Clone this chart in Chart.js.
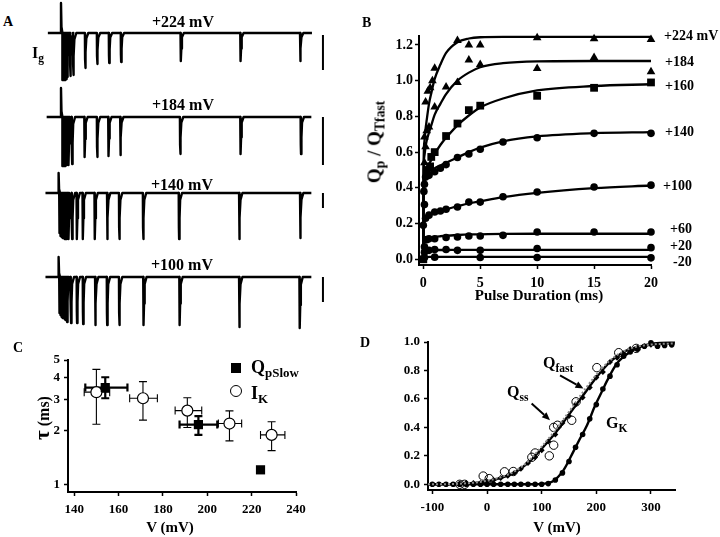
<!DOCTYPE html>
<html><head><meta charset="utf-8">
<script src="https://cdn.jsdelivr.net/npm/chart.js@4.4.1/dist/chart.umd.min.js"></script>
<style>
html,body{margin:0;padding:0;background:#fff;}
#fig{position:relative;width:720px;height:537px;overflow:hidden;background:#fff;font-family:"Liberation Serif","Times New Roman",serif;font-weight:bold;color:#000;}
canvas{position:absolute;}
.lbl{position:absolute;white-space:nowrap;line-height:1;}
.lbl sub{font-size:0.72em;vertical-align:-0.32em;line-height:0;}
.rot{position:absolute;white-space:nowrap;line-height:1;transform:translate(-50%,-50%) rotate(-90deg);}
.rot sub{font-size:0.72em;vertical-align:-0.32em;line-height:0;}
.ctr{transform:translateX(-50%);}
</style></head><body>
<div id="fig">
<canvas id="a1" width="290" height="88" style="left:40px;top:0px"></canvas>
<canvas id="a2" width="290" height="88" style="left:40px;top:85px"></canvas>
<canvas id="a3" width="290" height="80" style="left:40px;top:168px"></canvas>
<canvas id="a4" width="290" height="85" style="left:40px;top:252px"></canvas>
<canvas id="b" width="360" height="310" style="left:360px;top:0px"></canvas>
<canvas id="c" width="360" height="207" style="left:0px;top:330px"></canvas>
<canvas id="d" width="360" height="207" style="left:360px;top:330px"></canvas>

<div class="lbl" style="left:3px;top:15px;font-size:14px">A</div>
<div class="lbl" style="left:362px;top:16px;font-size:14px">B</div>
<div class="lbl" style="left:13px;top:341px;font-size:14px">C</div>
<div class="lbl" style="left:360px;top:336px;font-size:14px">D</div>

<div class="lbl" style="left:32px;top:45px;font-size:16px">I<sub>g</sub></div>
<div class="lbl" style="left:152px;top:14px;font-size:16px">+224 mV</div>
<div class="lbl" style="left:152px;top:97px;font-size:16px">+184 mV</div>
<div class="lbl" style="left:151px;top:177px;font-size:16px">+140 mV</div>
<div class="lbl" style="left:151px;top:257px;font-size:16px">+100 mV</div>

<div class="lbl" style="left:664px;top:29px;font-size:14px">+224 mV</div>
<div class="lbl" style="left:665px;top:55px;font-size:14px">+184</div>
<div class="lbl" style="left:665px;top:79px;font-size:14px">+160</div>
<div class="lbl" style="left:665px;top:125px;font-size:14px">+140</div>
<div class="lbl" style="left:663px;top:179px;font-size:14px">+100</div>
<div class="lbl" style="left:670px;top:222px;font-size:14px">+60</div>
<div class="lbl" style="left:670px;top:239px;font-size:14px">+20</div>
<div class="lbl" style="left:673px;top:255px;font-size:14px">-20</div>
<div class="rot" style="left:374px;top:142px;font-size:19px">Q<sub>p</sub> / Q<sub>Tfast</sub></div>
<div class="lbl ctr" style="left:539px;top:288px;font-size:15px">Pulse Duration (ms)</div>

<div class="rot" style="left:42px;top:418px;font-size:16px"><span style="font-size:21px">τ</span> (ms)</div>
<div class="lbl ctr" style="left:170px;top:520px;font-size:15px">V (mV)</div>
<div style="position:absolute;left:231px;top:363px;width:10px;height:10px;background:#000"></div>
<div class="lbl" style="left:251px;top:358px;font-size:18px">Q<sub>pSlow</sub></div>
<div style="position:absolute;left:230px;top:385px;width:10px;height:10px;border:1.3px solid #000;border-radius:50%;background:#fff"></div>
<div class="lbl" style="left:251px;top:384px;font-size:18px">I<sub>K</sub></div>

<div class="lbl ctr" style="left:557px;top:520px;font-size:15px">V (mV)</div>
<div class="lbl" style="left:543px;top:355px;font-size:16px">Q<sub>fast</sub></div>
<div class="lbl" style="left:507px;top:384px;font-size:16px">Q<sub>ss</sub></div>
<div class="lbl" style="left:606px;top:415px;font-size:16px">G<sub>K</sub></div>
</div>
<script>
// ---------------- DATA ----------------
// Panel A: gating current records (relative amplitude units), times in ms
const traceNames = ['+224 mV', '+184 mV', '+140 mV', '+100 mV'];
const traceStart = [-1.1, -1.2, -1.3, -1.3];
const traceEnd = [21.0, 20.95, 20.95, 20.95];
const onTime = [0, 0, -0.2, -0.2];
const onAmp = [30, 29, 20, 20];
const tail224T = [0.1, 0.2, 0.3, 0.4, 0.5, 0.75, 1.0, 2, 3, 4, 5, 10, 15, 20];
const tail224A = [47, 47, 47, 46, 44, 43, 42, 35, 31, 30, 29, 28, 28, 28];
const tail184T = [0.1, 0.2, 0.3, 0.45, 0.6, 0.9, 1.95, 3, 3.95, 4.95, 9.95, 15, 20.05];
const tail184A = [49, 49, 49, 48, 48, 47, 40, 40, 39, 38, 37, 37, 37];
const tail140T = [-0.15, -0.08, 0, 0.08, 0.15, 0.25, 0.4, 0.6, 0.9, 1.3, 1.8, 2.8, 3.85, 4.85, 6.85, 9.85, 14.9, 20];
const tail140A = [40, 43, 44, 45, 45, 46, 46, 46, 46, 46, 46, 46, 46, 46, 46, 46, 46, 45];
const tail100T = [-0.15, -0.08, 0, 0.08, 0.15, 0.25, 0.35, 0.48, 0.81, 1.31, 1.82, 2.85, 3.83, 4.85, 6.88, 9.9, 14.9, 19.95];
const tail100A = [36, 38, 40, 41, 41, 42, 43, 45, 46, 46, 47, 48, 48, 48, 48, 48, 50, 51];
const scaleBarT = 21.92;
const scaleBars = [[-2, -37], [0, -48], [0, -15], [0, -25]];

// Panel B: Qp/QTfast vs pulse duration
const bXTicks = [0, 5, 10, 15, 20];
const bYTicks = [0, 0.2, 0.4, 0.6, 0.8, 1.0, 1.2];
const tFit = [0, 0.02, 0.1, 0.2, 0.3, 0.5, 0.7, 1, 1.5, 2, 3, 4, 5, 7, 10, 15, 20];
const fit224 = [0, 0.5, 0.66, 0.73, 0.78, 0.87, 0.93, 1.01, 1.09, 1.155, 1.215, 1.236, 1.243, 1.245, 1.245, 1.245, 1.245];
const fit184 = [0, 0.45, 0.58, 0.63, 0.665, 0.71, 0.75, 0.81, 0.87, 0.925, 1.0, 1.045, 1.075, 1.098, 1.108, 1.11, 1.11];
const fit160 = [0, 0.38, 0.46, 0.5, 0.515, 0.535, 0.555, 0.59, 0.64, 0.68, 0.75, 0.805, 0.85, 0.9, 0.945, 0.97, 0.98];
const fit140 = [0, 0.33, 0.42, 0.46, 0.475, 0.49, 0.5, 0.51, 0.525, 0.54, 0.57, 0.6, 0.625, 0.66, 0.688, 0.706, 0.712];
const fit100 = [0, 0.16, 0.21, 0.235, 0.245, 0.252, 0.257, 0.263, 0.272, 0.28, 0.297, 0.313, 0.325, 0.348, 0.372, 0.398, 0.413];
const fit60 = [0, 0.07, 0.095, 0.108, 0.113, 0.118, 0.121, 0.125, 0.129, 0.132, 0.136, 0.139, 0.14, 0.142, 0.143, 0.143, 0.143];
const fit20 = [0, 0.03, 0.042, 0.047, 0.049, 0.05, 0.051, 0.052, 0.052, 0.052, 0.053, 0.053, 0.053, 0.053, 0.053, 0.053, 0.053];
const fitm20 = [0, 0.008, 0.011, 0.012, 0.012, 0.013, 0.013, 0.013, 0.013, 0.013, 0.013, 0.013, 0.013, 0.013, 0.013, 0.013, 0.013];
const p224T = [0.1, 0.2, 0.4, 0.6, 0.8, 1.0, 3, 4, 5, 10, 15, 20];
const p224Y = [0.685, 0.88, 0.94, 0.96, 1.0, 1.07, 1.225, 1.2, 1.2, 1.24, 1.235, 1.23];
const p184T = [0.1, 0.2, 0.3, 0.5, 1.0, 2, 3, 4, 5, 10, 15, 20];
const p184Y = [0.54, 0.63, 0.72, 0.74, 0.853, 0.965, 0.99, 1.115, 1.09, 1.068, 1.13, 1.05];
const p160T = [0, 0.3, 0.6, 0.7, 1.0, 2, 3, 4, 5, 10, 15, 20];
const p160Y = [0.0, 0.5, 0.52, 0.573, 0.6, 0.69, 0.76, 0.835, 0.86, 0.915, 0.96, 0.99];
const p140T = [0.05, 0.1, 0.2, 0.5, 1.0, 1.5, 2, 3, 4, 5, 7, 10, 15, 20];
const p140Y = [0.38, 0.42, 0.46, 0.47, 0.49, 0.51, 0.53, 0.57, 0.59, 0.616, 0.657, 0.68, 0.705, 0.705];
const p100T = [0, 0.1, 0.2, 0.5, 1, 1.5, 2, 3, 4, 5, 7, 10, 15, 20];
const p100Y = [0.19, 0.306, 0.23, 0.247, 0.265, 0.27, 0.28, 0.293, 0.32, 0.32, 0.35, 0.377, 0.405, 0.415];
const p60T = [0.1, 0.3, 0.5, 1, 2, 3, 4, 5, 7, 10, 15, 20];
const p60Y = [0.07, 0.11, 0.115, 0.115, 0.122, 0.125, 0.13, 0.13, 0.134, 0.153, 0.153, 0.153];
const p20T = [0.1, 0.5, 1, 2, 3, 5, 10, 20];
const p20Y = [0.04, 0.05, 0.055, 0.055, 0.05, 0.05, 0.06, 0.065];
const pm20T = [0.1, 1, 5, 10, 20];
const pm20Y = [0.01, 0.012, 0.01, 0.01, 0.008];

// Panel C: time constants
const cXTicks = [140, 160, 180, 200, 220, 240];
const cYTicks = [1, 2, 3, 4, 5];
const qsV = [154, 196, 224];
const qsTau = [3.5, 2.17, 1.21];
const qsVlo = [145, 187.5, null];
const qsVhi = [164, 204.5, null];
const qsTlo = [3.05, 1.9, null];
const qsThi = [4.0, 2.42, null];
const ikV = [150, 171, 191, 210, 229];
const ikTau = [3.3, 3.05, 2.6, 2.2, 1.9];
const ikVlo = [144.5, 165, 185.5, 205, 224];
const ikVhi = [156, 177.5, 197.5, 215.5, 235];
const ikTlo = [2.18, 2.3, 2.09, 1.76, 1.55];
const ikThi = [4.43, 3.78, 3.07, 2.59, 2.25];

// Panel D: Q-V and G-V
const dXTicks = [-100, 0, 100, 200, 300];
const dYTicks = [0, 0.2, 0.4, 0.6, 0.8, 1.0];
const curveV = [-108, -50, 0, 25, 50, 75, 100, 125, 150, 175, 200, 225, 250, 275, 300, 344];
const qssCurve = [0, 0.003, 0.02, 0.045, 0.08, 0.15, 0.25, 0.36, 0.49, 0.62, 0.75, 0.86, 0.93, 0.965, 0.98, 0.99];
const qfastCurve = [0, 0.004, 0.025, 0.05, 0.09, 0.16, 0.265, 0.38, 0.51, 0.645, 0.77, 0.87, 0.935, 0.968, 0.982, 0.99];
const gkCurveV = [-108, 0, 90, 100, 120, 140, 158, 170, 183, 198, 210, 220, 238, 262, 280, 305, 344];
const gkCurve = [0, 0, 0, 0.003, 0.02, 0.1, 0.23, 0.32, 0.415, 0.555, 0.65, 0.73, 0.85, 0.93, 0.965, 0.99, 0.995];
const gkV = [-100, -88, -75, -62, -50, -38, -25, -12, 0, 12, 25, 38, 50, 62, 75, 88, 100, 112, 125, 138, 150, 162, 175, 188, 200, 212, 225, 238, 250, 262, 275, 288, 300, 312, 325, 338];
const gkY = [0, 0, 0, 0, 0, 0, 0, 0, 0, 0, 0, 0, 0, 0, 0, 0, 0, 0.005, 0.03, 0.08, 0.16, 0.26, 0.35, 0.46, 0.56, 0.67, 0.76, 0.84, 0.9, 0.93, 0.95, 0.97, 0.995, 0.97, 0.975, 0.98];
const qssV = [-50, -38, -25, -12, 0, 12, 25, 38, 50, 62, 75, 88, 100, 112, 125, 138, 150, 162, 175, 188, 200, 212, 225, 238, 250, 262, 275, 288, 300];
const qssY = [0.005, 0.01, 0.01, 0.01, 0.02, 0.03, 0.045, 0.06, 0.08, 0.11, 0.15, 0.19, 0.24, 0.3, 0.35, 0.43, 0.48, 0.56, 0.61, 0.68, 0.75, 0.79, 0.86, 0.89, 0.92, 0.95, 0.96, 0.97, 0.98];
const qfV = [-50, -41, -7, 4, 32, 48, 82, 88, 114, 122, 122, 129, 155, 163, 201, 241, 273];
const qfY = [0, 0, 0.058, 0.04, 0.088, 0.09, 0.19, 0.22, 0.2, 0.275, 0.4, 0.415, 0.45, 0.58, 0.82, 0.925, 0.955];
const dArrows = [{from: [133.6, 0.766], to: [176.5, 0.673]}, {from: [81.6, 0.568], to: [115.3, 0.451]}];

// ---------------- RENDERING ----------------
const FONT = '"Liberation Serif", "Times New Roman", serif';
const zip = (xs, ys) => xs.map((x, i) => ({x, y: ys[i]}));
const base = {responsive: false, animation: false, devicePixelRatio: 1, events: [],
  plugins: {legend: {display: false}, tooltip: {enabled: false}}};

// Panel A traces
const TAIL_SHAPE = [[0, 0], [0.015, -0.75], [0.035, -1], [0.07, -0.55], [0.12, -0.15], [0.28, 0]];
const ON_SHAPE = [[-0.03, 0], [0, 1], [0.04, 0.2], [0.12, 0]];
const tailT = [tail224T, tail184T, tail140T, tail100T];
const tailA = [tail224A, tail184A, tail140A, tail100A];
function buildTrace(i) {
  const pts = [{x: traceStart[i], y: 0}];
  ON_SHAPE.forEach(([dx, f]) => pts.push({x: onTime[i] + dx, y: f * onAmp[i]}));
  tailT[i].forEach((t, k) => TAIL_SHAPE.forEach(([dx, f]) => pts.push({x: t + dx, y: f * tailA[i][k]})));
  pts.push({x: traceEnd[i], y: 0});
  return pts;
}
const aY = [[-55, 33], [-56, 32], [-55, 25], [-60, 25]];
['a1', 'a2', 'a3', 'a4'].forEach((id, i) => {
  new Chart(document.getElementById(id), {
    type: 'line',
    data: {datasets: [
      {label: traceNames[i], data: buildTrace(i), borderColor: '#000', borderWidth: 2.4, pointRadius: 0, tension: 0, borderJoinStyle: 'round', clip: false},
      {label: 'scale', data: [{x: scaleBarT, y: scaleBars[i][0]}, {x: scaleBarT, y: scaleBars[i][1]}], borderColor: '#000', borderWidth: 2, pointRadius: 0, clip: false}
    ]},
    options: Object.assign({}, base, {layout: {padding: 0},
      scales: {x: {type: 'linear', display: false, min: -1.757, max: 22.51},
               y: {type: 'linear', display: false, min: aY[i][0], max: aY[i][1]}}})
  });
});

function axis(o) {
  return {
    type: o.type || 'linear', min: o.min, max: o.max, position: o.position,
    grid: {display: true, drawOnChartArea: false, drawTicks: true, tickLength: 4, tickWidth: 1.5, tickColor: '#000'},
    border: {display: true, color: '#000', width: 2},
    ticks: {color: '#000', font: {family: FONT, weight: 'bold', size: o.fs}, padding: o.pad, autoSkip: false, maxRotation: 0,
      callback: o.cb || (v => String(v))},
    title: {display: false},
    afterBuildTicks: s => { s.ticks = o.ticks.map(v => ({value: v})); },
    afterFit: s => { if (o.position === 'bottom') s.height = o.size; else s.width = o.size; }
  };
}

// Panel B
const bSeries = [
  [fit224, p224T, p224Y, 'triangle', 5],
  [fit184, p184T, p184Y, 'triangle', 5],
  [fit160, p160T, p160Y, 'rect', 5.5],
  [fit140, p140T, p140Y, 'circle', 3.8],
  [fit100, p100T, p100Y, 'circle', 3.8],
  [fit60, p60T, p60Y, 'circle', 3.8],
  [fit20, p20T, p20Y, 'circle', 3.8],
  [fitm20, pm20T, pm20Y, 'circle', 3.8]
];
const bDatasets = [];
bSeries.forEach(([fit, pt, py, style, r]) => {
  bDatasets.push({data: zip(pt, py), showLine: false, pointStyle: style, pointRadius: r, backgroundColor: '#000', borderColor: '#000', borderWidth: 0, clip: false});
  bDatasets.push({data: zip(tFit, fit), borderColor: '#000', borderWidth: 2.3, pointRadius: 0, cubicInterpolationMode: 'monotone', clip: false});
});
new Chart(document.getElementById('b'), {
  type: 'line',
  data: {datasets: bDatasets},
  options: Object.assign({}, base, {layout: {padding: {left: 0, top: 36, right: 69, bottom: 0}},
    scales: {
      x: axis({min: -0.378, max: 20, position: 'bottom', ticks: bXTicks, fs: 14, pad: 6, size: 45}),
      y: axis({min: -0.032, max: 1.25, position: 'left', ticks: bYTicks, fs: 14, pad: 2, size: 59, cb: v => v.toFixed(1)})
    }})
});

// Panel C
const errPlugin = {
  id: 'errbars',
  beforeDatasetsDraw(chart) {
    const ctx = chart.ctx, xs = chart.scales.x, ys = chart.scales.y;
    chart.data.datasets.forEach(ds => {
      const e = ds.errs; if (!e) return;
      ctx.save(); ctx.strokeStyle = '#000'; ctx.lineWidth = e.width;
      ds.data.forEach((p, i) => {
        const px = xs.getPixelForValue(p.x), py = ys.getPixelForValue(p.y);
        ctx.beginPath();
        if (e.xlo[i] != null) {
          const a = xs.getPixelForValue(e.xlo[i]), b = xs.getPixelForValue(e.xhi[i]);
          ctx.moveTo(a, py); ctx.lineTo(b, py);
          ctx.moveTo(a, py - e.cap); ctx.lineTo(a, py + e.cap);
          ctx.moveTo(b, py - e.cap); ctx.lineTo(b, py + e.cap);
        }
        if (e.ylo[i] != null) {
          const a = ys.getPixelForValue(e.ylo[i]), b = ys.getPixelForValue(e.yhi[i]);
          ctx.moveTo(px, a); ctx.lineTo(px, b);
          ctx.moveTo(px - e.cap, a); ctx.lineTo(px + e.cap, a);
          ctx.moveTo(px - e.cap, b); ctx.lineTo(px + e.cap, b);
        }
        ctx.stroke();
      });
      ctx.restore();
    });
  }
};
new Chart(document.getElementById('c'), {
  type: 'scatter',
  data: {datasets: [
    {label: 'QpSlow', data: zip(qsV, qsTau), pointStyle: 'rect', pointRadius: 6.5, backgroundColor: '#000', borderColor: '#000', borderWidth: 0, clip: false,
      errs: {xlo: qsVlo, xhi: qsVhi, ylo: qsTlo, yhi: qsThi, width: 2.2, cap: 4}},
    {label: 'IK', data: zip(ikV, ikTau), pointStyle: 'circle', pointRadius: 5.5, backgroundColor: '#fff', borderColor: '#000', borderWidth: 1.2, clip: false,
      errs: {xlo: ikVlo, xhi: ikVhi, ylo: ikTlo, yhi: ikThi, width: 1.1, cap: 4}}
  ]},
  plugins: [errPlugin],
  options: Object.assign({}, base, {layout: {padding: {left: 0, top: 30, right: 64, bottom: 0}},
    scales: {
      x: axis({min: 137.2, max: 240, position: 'bottom', ticks: cXTicks, fs: 13, pad: 6, size: 45}),
      y: axis({type: 'logarithmic', min: 0.9087, max: 5, position: 'left', ticks: cYTicks, fs: 13, pad: 4, size: 68})
    }})
});

// Panel D
const arrowPlugin = {
  id: 'arrows',
  afterDatasetsDraw(chart) {
    const ctx = chart.ctx, xs = chart.scales.x, ys = chart.scales.y;
    ctx.save(); ctx.strokeStyle = '#000'; ctx.fillStyle = '#000'; ctx.lineWidth = 2;
    dArrows.forEach(a => {
      const x1 = xs.getPixelForValue(a.from[0]), y1 = ys.getPixelForValue(a.from[1]);
      const x2 = xs.getPixelForValue(a.to[0]), y2 = ys.getPixelForValue(a.to[1]);
      const ang = Math.atan2(y2 - y1, x2 - x1), L = 8, W = 3.5;
      const bx = x2 - L * Math.cos(ang), by = y2 - L * Math.sin(ang);
      ctx.beginPath(); ctx.moveTo(x1, y1); ctx.lineTo(bx, by); ctx.stroke();
      ctx.beginPath(); ctx.moveTo(x2, y2);
      ctx.lineTo(bx + W * Math.sin(ang), by - W * Math.cos(ang));
      ctx.lineTo(bx - W * Math.sin(ang), by + W * Math.cos(ang));
      ctx.closePath(); ctx.fill();
    });
    ctx.restore();
  }
};
new Chart(document.getElementById('d'), {
  type: 'line',
  data: {datasets: [
    {label: 'Qfast fit', data: zip(curveV, qfastCurve), borderColor: '#8a8a8a', borderWidth: 2, borderDash: [2, 2], pointRadius: 0, cubicInterpolationMode: 'monotone', clip: false},
    {label: 'Qss fit', data: zip(curveV, qssCurve), borderColor: '#000', borderWidth: 2.4, pointRadius: 0, cubicInterpolationMode: 'monotone', clip: false},
    {label: 'GK fit', data: zip(gkCurveV, gkCurve), borderColor: '#000', borderWidth: 2.4, pointRadius: 0, cubicInterpolationMode: 'monotone', clip: false},
    {label: 'GK', data: zip(gkV, gkY), showLine: false, pointStyle: 'circle', pointRadius: 2.8, backgroundColor: '#000', borderWidth: 0, clip: false},
    {label: 'Qss', data: zip(qssV, qssY), showLine: false, pointStyle: 'rectRot', pointRadius: 3, backgroundColor: '#000', borderWidth: 0, clip: false},
    {label: 'Qfast', data: zip(qfV, qfY), showLine: false, pointStyle: 'circle', pointRadius: 4.2, backgroundColor: 'rgba(255,255,255,0)', borderColor: '#000', borderWidth: 1, clip: false}
  ]},
  plugins: [arrowPlugin],
  options: Object.assign({}, base, {layout: {padding: {left: 0, top: 12, right: 45, bottom: 0}},
    scales: {
      x: axis({min: -108, max: 344, position: 'bottom', ticks: dXTicks, fs: 13, pad: 6, size: 47}),
      y: axis({min: -0.04, max: 1.0, position: 'left', ticks: dYTicks, fs: 13, pad: 4, size: 68, cb: v => v.toFixed(1)})
    }})
});
</script>
</body></html>
